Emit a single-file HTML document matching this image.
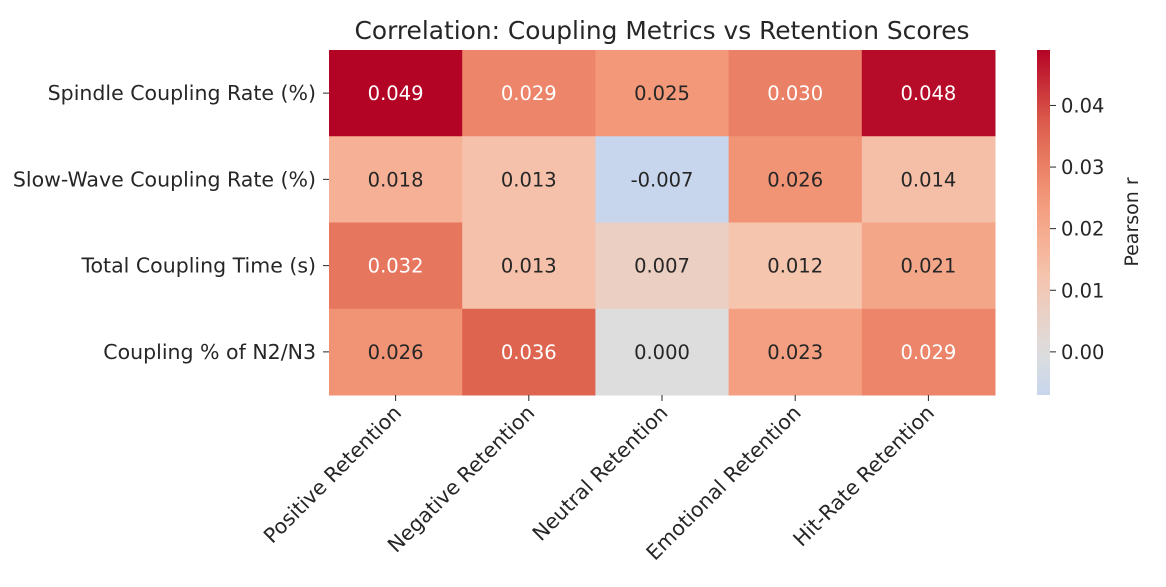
<!DOCTYPE html>
<html><head><meta charset="utf-8"><style>
body{margin:0;background:#fff;font-family:"DejaVu Sans",sans-serif}
svg text{font-family:"DejaVu Sans",sans-serif;fill:#262626}
</style></head><body>
<svg id="chart" width="1166" height="583">
<text x="662" y="39" font-size="24.5" text-anchor="middle" textLength="615" lengthAdjust="spacingAndGlyphs">Correlation: Coupling Metrics vs Retention Scores</text>
<g id="cells"></g><g id="ylab"></g><g id="xlab"></g>
<defs><linearGradient id="cbg" x1="0" y1="1" x2="0" y2="0"></linearGradient></defs>
<rect x="1037" y="50" width="13" height="345" fill="url(#cbg)"/>
<g id="cbticks"></g>
<text transform="translate(1138,222) rotate(-90)" font-size="19" text-anchor="middle">Pearson r</text>
</svg>
<script>
const rows=["Spindle Coupling Rate (%)","Slow-Wave Coupling Rate (%)","Total Coupling Time (s)","Coupling % of N2/N3"];
const cols=["Positive Retention","Negative Retention","Neutral Retention","Emotional Retention","Hit-Rate Retention"];
const values=[[0.049,0.029,0.025,0.030,0.048],[0.018,0.013,-0.007,0.026,0.014],[0.032,0.013,0.007,0.012,0.021],[0.026,0.036,0.000,0.023,0.029]];
const cbTicks=[0,0.01,0.02,0.03,0.04];
const vmin=-0.007,vmax=0.049,span=0.049;
const X0=329,X1=995,Y0=50,Y1=395;
const FS=19.5, LFS=20.5;
const cw=(X1-X0)/cols.length,rh=(Y1-Y0)/rows.length;
const stops=[[59,76,192],[98,130,234],[141,176,254],[184,208,249],[221,221,221],[245,196,173],[244,154,123],[222,96,77],[180,4,38]];
function cm(t){t=Math.max(0,Math.min(1,t))*8;const i=Math.min(7,Math.floor(t)),f=t-i;const a=stops[i],b=stops[i+1];return `rgb(${a.map((v,k)=>Math.round(v+(b[k]-v)*f)).join(',')})`;}
function col(v){return cm((v+span)/(2*span));}
const yScale=v=>Y1-(v-vmin)/(vmax-vmin)*(Y1-Y0);
const NS="http://www.w3.org/2000/svg";
function mk(t,a,p){const e=document.createElementNS(NS,t);for(const k in a)e.setAttribute(k,a[k]);p.appendChild(e);return e;}
const cells=document.getElementById('cells');
values.forEach((r,i)=>r.forEach((v,j)=>{
 const re=mk('rect',{x:X0+j*cw,y:Y0+i*rh,width:cw+0.5,height:rh+0.5,fill:col(v)},cells);
 
 
 const t=mk('text',{x:X0+(j+0.5)*cw,y:Y0+(i+0.5)*rh+7,'font-size':FS,'text-anchor':'middle'},cells);
 
 
 t.style.fill=v>=0.028?'#fff':'#262626';
 t.textContent=v.toFixed(3);
}));
const yl=document.getElementById('ylab');
rows.forEach((r,i)=>{const y=Y0+(i+0.5)*rh;
 mk('line',{x1:X0-6,x2:X0,y1:y,y2:y,stroke:'#262626'},yl);
 const t=mk('text',{x:X0-13,y:y+7,'font-size':LFS,'text-anchor':'end'},yl);
 
 
 t.textContent=r;});
const xl=document.getElementById('xlab');
cols.forEach((c,j)=>{const x=X0+(j+0.5)*cw;
 mk('line',{x1:x,x2:x,y1:Y1,y2:Y1+6,stroke:'#262626'},xl);
 const t=mk('text',{transform:`translate(${x+7},${Y1+19}) rotate(-45)`,'font-size':LFS,'text-anchor':'end'},xl);
 
 
 t.textContent=c;});
const g=document.getElementById('cbg');
for(let k=0;k<=20;k++){const v=vmin+(vmax-vmin)*k/20;mk('stop',{offset:k/20,'stop-color':col(v)},g);}
const cb=document.getElementById('cbticks');
cbTicks.forEach(v=>{const y=yScale(v);
 mk('line',{x1:1050,x2:1056,y1:y,y2:y,stroke:'#262626'},cb);
 const t=mk('text',{x:1061,y:y+7,'font-size':FS},cb);
 
 
 t.textContent=v.toFixed(2);});
</script>
</body></html>
